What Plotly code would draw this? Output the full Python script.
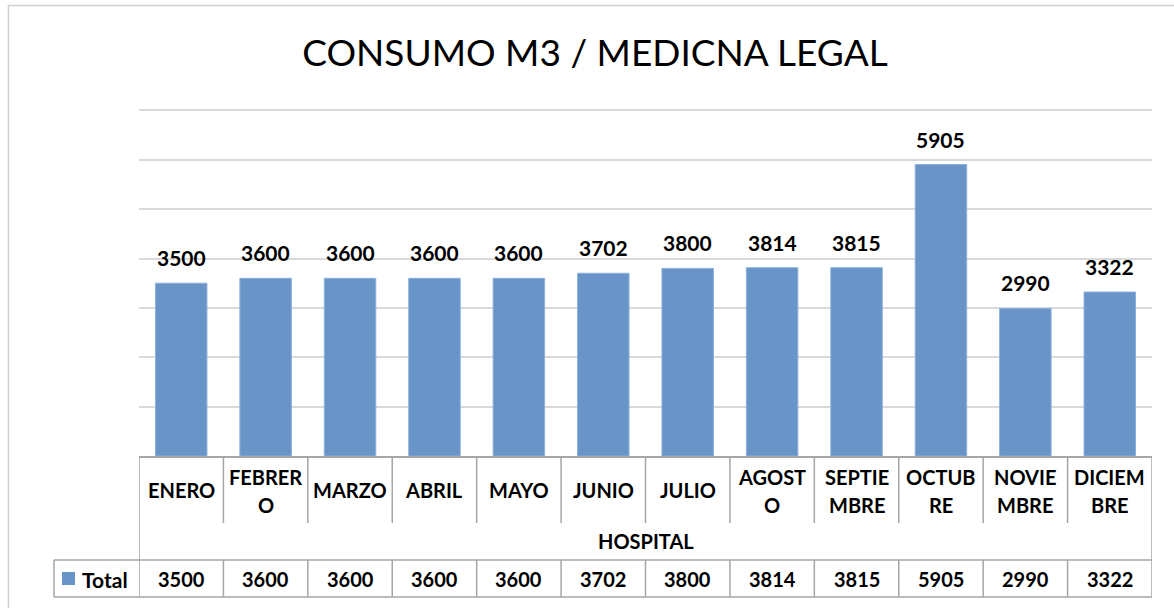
import plotly.graph_objects as go

months = ["ENERO", "FEBRERO", "MARZO", "ABRIL", "MAYO", "JUNIO",
          "JULIO", "AGOSTO", "SEPTIEMBRE", "OCTUBRE", "NOVIEMBRE", "DICIEMBRE"]
month_labels = ["ENERO", "FEBRER|O", "MARZO", "ABRIL", "MAYO", "JUNIO",
                "JULIO", "AGOST|O", "SEPTIE|MBRE", "OCTUB|RE", "NOVIE|MBRE", "DICIEM|BRE"]
values = [3500, 3600, 3600, 3600, 3600, 3702, 3800, 3814, 3815, 5905, 2990, 3322]
group_label = "HOSPITAL"
series_name = "Total"
title_text = "CONSUMO M3 / MEDICNA LEGAL"

W, H = 1174, 608
L, R, T, B = 139, 1152, 108, 456
BLUE = "#6894C8"
LINE = "#A6A6A6"
FONT = "Lato"


def py(pix):
    """pixel y -> paper y"""
    return (B - pix) / (B - T)


def px(pix):
    return (pix - L) / (R - L)


fig = go.Figure()
fig.add_trace(go.Bar(
    x=months, y=values, name=series_name,
    marker=dict(color=BLUE, line=dict(color="#8DB0DB", width=1)),
    hoverinfo="x+y",
))

shapes = []
annotations = []

# data labels above bars
lab_font = dict(family=FONT, size=21, color="black", weight="bold")
for m, v in zip(months, values):
    annotations.append(dict(x=m, y=v, xref="x", yref="y", text=str(v), showarrow=False,
                            font=lab_font, xanchor="center", yanchor="bottom", yshift=11))

# table lines
line = dict(color=LINE, width=1.5)
for xv in [-0.5, len(months) - 0.5]:
    shapes.append(dict(type="line", xref="x", yref="paper", x0=xv, x1=xv,
                       y0=py(456), y1=py(597), line=line))
for i in range(1, len(months)):
    xv = i - 0.5
    shapes.append(dict(type="line", xref="x", yref="paper", x0=xv, x1=xv,
                       y0=py(456), y1=py(523), line=line))
    shapes.append(dict(type="line", xref="x", yref="paper", x0=xv, x1=xv,
                       y0=py(560), y1=py(597), line=line))
for yv in [560, 597]:
    shapes.append(dict(type="line", xref="paper", yref="paper", x0=px(54), x1=1,
                       y0=py(yv), y1=py(yv), line=line))
shapes.append(dict(type="line", xref="paper", yref="paper", x0=px(54), x1=px(54),
                   y0=py(560), y1=py(597), line=line))
# legend swatch
shapes.append(dict(type="rect", xref="paper", yref="paper", x0=px(62), x1=px(75),
                   y0=py(585), y1=py(572), fillcolor=BLUE, line=dict(width=0)))
# outer chart border
shapes.append(dict(type="rect", xref="paper", yref="paper", x0=px(8.5), x1=px(1180),
                   y0=py(620), y1=py(5.5), line=dict(color="#D0D0D0", width=1.5),
                   fillcolor="rgba(0,0,0,0)", layer="below"))

cat_font = dict(family=FONT, size=20, color="black", weight="bold")
for m, lab in zip(months, month_labels):
    parts = lab.split("|")
    ys = [489.5] if len(parts) == 1 else [477, 505]
    for part, yy in zip(parts, ys):
        annotations.append(dict(x=m, y=py(yy), xref="x", yref="paper", text=part,
                                showarrow=False, font=cat_font,
                                xanchor="center", yanchor="middle"))

annotations.append(dict(x=0.5, y=py(541), xref="paper", yref="paper", text=group_label,
                        showarrow=False, font=cat_font, xanchor="center", yanchor="middle"))

for m, v in zip(months, values):
    annotations.append(dict(x=m, y=py(579), xref="x", yref="paper", text=str(v),
                            showarrow=False, font=cat_font,
                            xanchor="center", yanchor="middle"))
annotations.append(dict(x=px(80), y=py(579), xref="paper", yref="paper", text=series_name,
                        showarrow=False, font=dict(family=FONT, size=21, color="black", weight="bold"),
                        xanchor="left", yanchor="middle"))

fig.update_layout(
    width=W, height=H,
    margin=dict(l=L, r=W - R, t=T, b=H - B, pad=0),
    paper_bgcolor="white", plot_bgcolor="white",
    showlegend=False,
    bargap=0.39,
    shapes=shapes,
    annotations=annotations,
    title=dict(text=title_text, x=595 / W, xanchor="center",
               y=1 - 53 / H, yanchor="middle", yref="container",
               font=dict(family=FONT, size=37, color="black")),
    xaxis=dict(type="category", range=[-0.5, len(months) - 0.5], showticklabels=False,
               showgrid=False, zeroline=False, showline=True, linecolor=LINE, linewidth=1.5,
               ticks="", fixedrange=True),
    yaxis=dict(range=[0, 7050], dtick=1000, showticklabels=False, showgrid=True,
               gridcolor="#D9D9D9", gridwidth=1.5, zeroline=False, showline=False,
               ticks="", fixedrange=True),
)
fig.write_html("out.html", config={"displayModeBar": False},
               post_script="document.body.style.margin='0';")
